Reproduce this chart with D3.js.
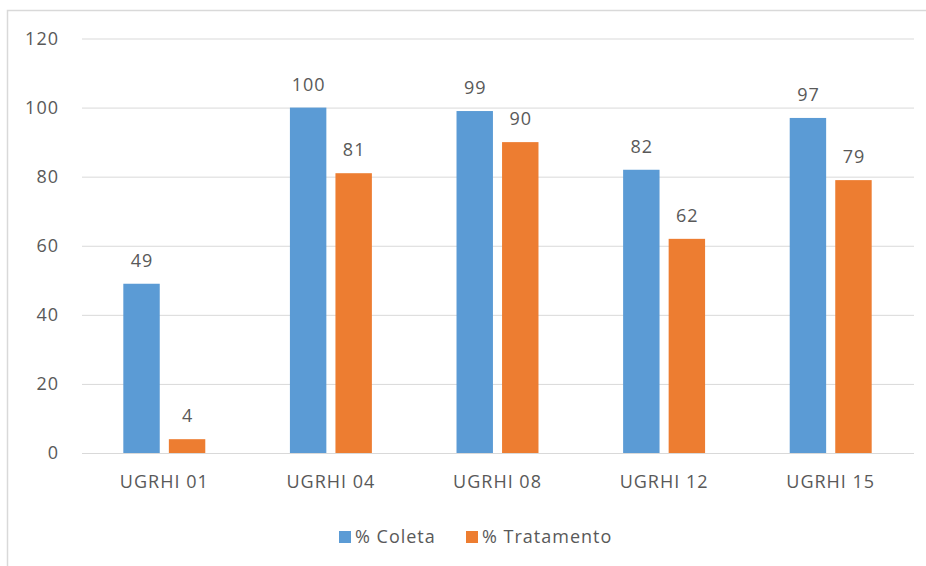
<!DOCTYPE html>
<html>
<head>
<meta charset="utf-8">
<script src="https://cdn.jsdelivr.net/npm/d3@7"></script>
<style>
  html, body { margin: 0; padding: 0; background: #ffffff; }
  svg { display: block; }
  text { font-family: "Open Sans", "Liberation Sans", sans-serif; fill: #595959; letter-spacing: 1px; }
</style>
</head>
<body>
<svg id="chart" width="926" height="566"></svg>
<script>
// Sewage coverage by water resources management unit (UGRHI)
const categories = ["UGRHI 01", "UGRHI 04", "UGRHI 08", "UGRHI 12", "UGRHI 15"];
const seriesNames = ["% Coleta", "% Tratamento"];
const coleta = [49, 100, 99, 82, 97];
const tratamento = [4, 81, 90, 62, 79];
const yTicks = [0, 20, 40, 60, 80, 100, 120];
const colors = ["#5B9BD5", "#ED7D31"];

const seriesValues = [coleta, tratamento];
const rows = categories.map((c, i) => ({
  category: c,
  values: seriesNames.map((s, j) => ({ series: s, value: seriesValues[j][i], color: colors[j] }))
}));

const fontSize = 18;
const svg = d3.select("#chart");

// outer chart frame
svg.append("rect")
  .attr("x", 7.5).attr("y", 10.5)
  .attr("width", 940).attr("height", 600)
  .attr("fill", "none")
  .attr("stroke", "#d9d9d9")
  .attr("stroke-width", 1.5);

const x0 = d3.scaleBand().domain(categories).range([81, 914]).paddingInner(0).paddingOuter(0);
const groupPad = x0.bandwidth() * 0.254;
const x1 = d3.scaleBand().domain(seriesNames)
  .range([groupPad, x0.bandwidth() - groupPad]).paddingInner(0.2).paddingOuter(0);
const y = d3.scaleLinear().domain([0, 120]).range([453, 38.5]);

// horizontal gridlines
const yAxis = d3.axisLeft(y).tickValues(yTicks).tickSize(-(914 - 82)).tickPadding(23);
const gy = svg.append("g").attr("transform", "translate(82,0)").call(yAxis);
gy.select(".domain").remove();
gy.selectAll(".tick line").attr("stroke", "#d9d9d9").attr("stroke-width", 1);
gy.selectAll(".tick text")
  .attr("font-size", fontSize)
  .attr("fill", "#595959")
  .attr("font-family", "'Open Sans', sans-serif");

// category axis labels
const xAxis = d3.axisBottom(x0).tickSize(0).tickPadding(22);
const gx = svg.append("g").attr("transform", "translate(0,453)").call(xAxis);
gx.select(".domain").remove();
gx.selectAll(".tick text")
  .attr("font-size", fontSize)
  .attr("fill", "#595959")
  .attr("font-family", "'Open Sans', sans-serif");

// bars
const groups = svg.append("g").selectAll("g")
  .data(rows).join("g")
  .attr("transform", d => `translate(${x0(d.category)},0)`);

groups.selectAll("rect")
  .data(d => d.values).join("rect")
  .attr("x", d => x1(d.series))
  .attr("y", d => y(d.value))
  .attr("width", x1.bandwidth())
  .attr("height", d => y(0) - y(d.value))
  .attr("fill", d => d.color);

// value labels
groups.selectAll("text.val")
  .data(d => d.values).join("text")
  .attr("class", "val")
  .attr("x", d => x1(d.series) + x1.bandwidth() / 2 + 0.5)
  .attr("y", d => y(d.value) - 17)
  .attr("text-anchor", "middle")
  .attr("font-size", fontSize)
  .text(d => d.value);

// legend
const legend = svg.append("g").attr("transform", "translate(339,0)");
const legendOffsets = [0, 127];
seriesNames.forEach((s, i) => {
  const g = legend.append("g").attr("transform", `translate(${legendOffsets[i]},0)`);
  g.append("rect").attr("x", 0).attr("y", 531).attr("width", 12).attr("height", 12).attr("fill", colors[i]);
  g.append("text").attr("x", 16).attr("y", 543).attr("font-size", fontSize).text(s);
});
</script>
</body>
</html>
